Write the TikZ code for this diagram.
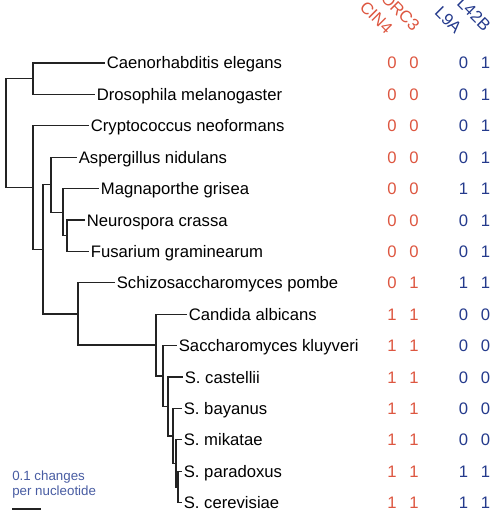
\documentclass[tikz,border=0pt]{standalone}
\usepackage{fontspec}
\setmainfont{Liberation Sans}
\usetikzlibrary{positioning}
\definecolor{geneRed}{RGB}{221,86,64}
\definecolor{geneBlue}{RGB}{36,58,140}
\definecolor{scaleBlue}{RGB}{72,92,162}
\definecolor{branchGray}{RGB}{35,35,35}

\begin{document}
\begin{tikzpicture}[
  x=0.75pt, y=-0.75pt,
  taxon/.style={anchor=west, inner sep=1.2pt, text height=9pt, text depth=0pt,
    font=\fontsize{12.5}{14}\selectfont},
  branch/.style={draw=branchGray, line width=1pt},
  redbits/.style={text=geneRed, inner sep=0pt, text height=9pt, text depth=0pt,
    font=\fontsize{12.5}{14}\selectfont},
  bluebits/.style={redbits, text=geneBlue},
  gene/.style={rotate=-45, anchor=east, inner sep=0pt, font=\fontsize{12.5}{14}\selectfont}
]
\useasboundingbox (0,0) rectangle (494,516);

% taxa
\node[taxon] (celegans) at (105,63) {Caenorhabditis elegans};
\node[taxon] (dmel) at (95,94.4) {Drosophila melanogaster};
\node[taxon] (cneo) at (89,125.8) {Cryptococcus neoformans};
\node[taxon] (anid) at (77,157.2) {Aspergillus nidulans};
\node[taxon] (mgri) at (99,188.6) {Magnaporthe grisea};
\node[taxon] (ncra) at (85,220) {Neurospora crassa};
\node[taxon] (fgra) at (89,251.4) {Fusarium graminearum};
\node[taxon] (spom) at (115,282.8) {Schizosaccharomyces pombe};
\node[taxon] (calb) at (187,314.2) {Candida albicans};
\node[taxon] (sklu) at (177,345.6) {Saccharomyces kluyveri};
\node[taxon] (scas) at (183,377) {S. castellii};
\node[taxon] (sbay) at (182,408.4) {S. bayanus};
\node[taxon] (smik) at (182,439.8) {S. mikatae};
\node[taxon] (spar) at (182,471.2) {S. paradoxus};
\node[taxon] (scer) at (182,502.6) {S. cerevisiae};

% inner nodes
\coordinate (root) at (6,133.1);
\coordinate (metazoa) at (33,78.7);
\coordinate (fungi) at (33,187.6);
\coordinate (asco) at (43,249.3);
\coordinate (pezizo) at (51,184.7);
\coordinate (sordario) at (63,212.2);
\coordinate (neufus) at (67,235.7);
\coordinate (yeasts) at (78,314);
\coordinate (saccharo) at (156,345.1);
\coordinate (kluy) at (163,376);
\coordinate (cast) at (168,406.5);
\coordinate (sensu) at (173,435.9);
\coordinate (mikgrp) at (176,463.4);
\coordinate (pargrp) at (178,486.9);

% branches
\draw[branch] (root) |- (metazoa);
\draw[branch] (root) |- (fungi);
\draw[branch] (metazoa) |- (celegans);
\draw[branch] (metazoa) |- (dmel);
\draw[branch] (fungi) |- (cneo);
\draw[branch] (fungi) |- (asco);
\draw[branch] (asco) |- (pezizo);
\draw[branch] (asco) |- (yeasts);
\draw[branch] (pezizo) |- (anid);
\draw[branch] (pezizo) |- (sordario);
\draw[branch] (sordario) |- (mgri);
\draw[branch] (sordario) |- (neufus);
\draw[branch] (neufus) |- (ncra);
\draw[branch] (neufus) |- (fgra);
\draw[branch] (yeasts) |- (spom);
\draw[branch] (yeasts) |- (saccharo);
\draw[branch] (saccharo) |- (calb);
\draw[branch] (saccharo) |- (kluy);
\draw[branch] (kluy) |- (sklu);
\draw[branch] (kluy) |- (cast);
\draw[branch] (cast) |- (scas);
\draw[branch] (cast) |- (sensu);
\draw[branch] (sensu) |- (sbay);
\draw[branch] (sensu) |- (mikgrp);
\draw[branch] (mikgrp) |- (smik);
\draw[branch] (mikgrp) |- (pargrp);
\draw[branch] (pargrp) |- (spar);
\draw[branch] (pargrp) |- (scer);

% gene headers
\node[gene, text=geneRed] (cin) at (390,31) {CIN4};
\node[gene, text=geneRed] (orc) at (417,28) {ORC3};
\node[gene, text=geneBlue] (lnine) at (459,31) {L9A};
\node[gene, text=geneBlue] (lfortytwo) at (488,28) {L42B};

% presence / absence
\node[redbits] (red1) at (403,63) {0\hspace{9.5pt}0};
\node[redbits] (red2) at (403,94.4) {0\hspace{9.5pt}0};
\node[redbits] (red3) at (403,125.8) {0\hspace{9.5pt}0};
\node[redbits] (red4) at (403,157.2) {0\hspace{9.5pt}0};
\node[redbits] (red5) at (403,188.6) {0\hspace{9.5pt}0};
\node[redbits] (red6) at (403,220) {0\hspace{9.5pt}0};
\node[redbits] (red7) at (403,251.4) {0\hspace{9.5pt}0};
\node[redbits] (red8) at (403,282.8) {0\hspace{9.5pt}1};
\node[redbits] (red9) at (403,314.2) {1\hspace{9.5pt}1};
\node[redbits] (red10) at (403,345.6) {1\hspace{9.5pt}1};
\node[redbits] (red11) at (403,377) {1\hspace{9.5pt}1};
\node[redbits] (red12) at (403,408.4) {1\hspace{9.5pt}1};
\node[redbits] (red13) at (403,439.8) {1\hspace{9.5pt}1};
\node[redbits] (red14) at (403,471.2) {1\hspace{9.5pt}1};
\node[redbits] (red15) at (403,502.6) {1\hspace{9.5pt}1};

\node[bluebits] (blue1) at (474.5,63) {0\hspace{9.5pt}1};
\node[bluebits] (blue2) at (474.5,94.4) {0\hspace{9.5pt}1};
\node[bluebits] (blue3) at (474.5,125.8) {0\hspace{9.5pt}1};
\node[bluebits] (blue4) at (474.5,157.2) {0\hspace{9.5pt}1};
\node[bluebits] (blue5) at (474.5,188.6) {1\hspace{9.5pt}1};
\node[bluebits] (blue6) at (474.5,220) {0\hspace{9.5pt}1};
\node[bluebits] (blue7) at (474.5,251.4) {0\hspace{9.5pt}1};
\node[bluebits] (blue8) at (474.5,282.8) {1\hspace{9.5pt}1};
\node[bluebits] (blue9) at (474.5,314.2) {0\hspace{9.5pt}0};
\node[bluebits] (blue10) at (474.5,345.6) {0\hspace{9.5pt}0};
\node[bluebits] (blue11) at (474.5,377) {0\hspace{9.5pt}0};
\node[bluebits] (blue12) at (474.5,408.4) {0\hspace{9.5pt}0};
\node[bluebits] (blue13) at (474.5,439.8) {0\hspace{9.5pt}0};
\node[bluebits] (blue14) at (474.5,471.2) {1\hspace{9.5pt}1};
\node[bluebits] (blue15) at (474.5,502.6) {1\hspace{9.5pt}1};

% scale bar
\node[anchor=north west, inner sep=0pt, align=left, text=scaleBlue,
  font=\fontsize{10}{11.25}\selectfont] (scale) at (12,470.5) {0.1 changes\\per nucleotide};
\coordinate (barstart) at (12,509);
\coordinate (barend) at (41,509);
\draw[branch] (barstart) -- (barend);
\end{tikzpicture}
\end{document}
